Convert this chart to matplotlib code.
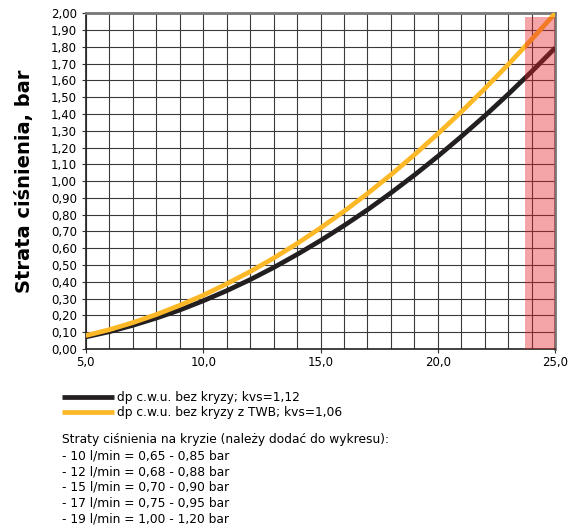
import numpy as np
import matplotlib
matplotlib.use("Agg")
import matplotlib.pyplot as plt
from matplotlib.ticker import FuncFormatter, MultipleLocator

plt.rcParams['font.family'] = ['DejaVu Sans']

# przepływ, l/min
flow = [5, 6, 7, 8, 9, 10, 11, 12, 13, 14, 15, 16, 17, 18, 19, 20, 21, 22, 23, 24, 25]
# straty ciśnienia, bar
dp_black = [0.072, 0.103, 0.141, 0.184, 0.232, 0.287, 0.347, 0.413, 0.485, 0.563, 0.646,
            0.735, 0.829, 0.930, 1.036, 1.148, 1.266, 1.389, 1.518, 1.653, 1.794]
dp_yellow = [0.080, 0.115, 0.157, 0.205, 0.260, 0.320, 0.388, 0.461, 0.541, 0.628, 0.721,
             0.820, 0.926, 1.038, 1.157, 1.282, 1.413, 1.551, 1.695, 1.845, 2.000]
label_black = 'dp c.w.u. bez kryzy; kvs=1,12'
label_yellow = 'dp c.w.u. bez kryzy z TWB; kvs=1,06'

# zakres zaznaczony na czerwono
band_x = (23.7, 25.0)
band_top = 1.98

notes = [
    'Straty ciśnienia na kryzie (należy dodać do wykresu):',
    '- 10 l/min = 0,65 - 0,85 bar',
    '- 12 l/min = 0,68 - 0,88 bar',
    '- 15 l/min = 0,70 - 0,90 bar',
    '- 17 l/min = 0,75 - 0,95 bar',
    '- 19 l/min = 1,00 - 1,20 bar',
]

fig = plt.figure(figsize=(5.76, 5.28), dpi=100)
ax = fig.add_axes([0.149, 0.339, 0.815, 0.636])

ax.plot(flow, dp_black, color='#231f20', lw=3.4, solid_capstyle='butt', label=label_black, zorder=3)
ax.plot(flow, dp_yellow, color='#fdb827', lw=3.4, solid_capstyle='butt', label=label_yellow, zorder=3)
ax.fill_between(band_x, 0, band_top, color='#e31e24', alpha=0.4, lw=0, zorder=4)

ax.set_xlim(5, 25)
ax.set_ylim(0, 2.0)
ax.xaxis.set_major_locator(MultipleLocator(5))
ax.xaxis.set_minor_locator(MultipleLocator(1))
ax.yaxis.set_major_locator(MultipleLocator(0.1))
ax.xaxis.set_major_formatter(FuncFormatter(lambda v, p: f'{v:.1f}'.replace('.', ',')))
ax.yaxis.set_major_formatter(FuncFormatter(lambda v, p: f'{v:.2f}'.replace('.', ',')))
ax.grid(True, which='both', axis='x', color='#3a3a3a', lw=0.8, zorder=1)
ax.grid(True, which='major', axis='y', color='#3a3a3a', lw=0.8, zorder=1)
ax.tick_params(axis='x', which='minor', length=0)
ax.tick_params(axis='both', which='major', labelsize=8.5, length=3, color='#333333')
ax.tick_params(axis='x', pad=2)

for s in ['top', 'right']:
    ax.spines[s].set_color('#777777')
    ax.spines[s].set_linewidth(2.0)
for s in ['left', 'bottom']:
    ax.spines[s].set_color('#222222')
    ax.spines[s].set_linewidth(1.2)

ax.set_ylabel('Strata ciśnienia, bar', fontsize=14, fontweight='bold', labelpad=12)

fig.legend(loc='upper left', bbox_to_anchor=(0.1, 0.268), frameon=False, fontsize=8.8,
           handlelength=4.2, handletextpad=0.3, labelspacing=0.12, borderaxespad=0)

y = 0.167
for line in notes:
    fig.text(0.108, y, line, fontsize=8.8, va='center', ha='left')
    y -= 0.0300

fig.savefig('out.png', dpi=100)
